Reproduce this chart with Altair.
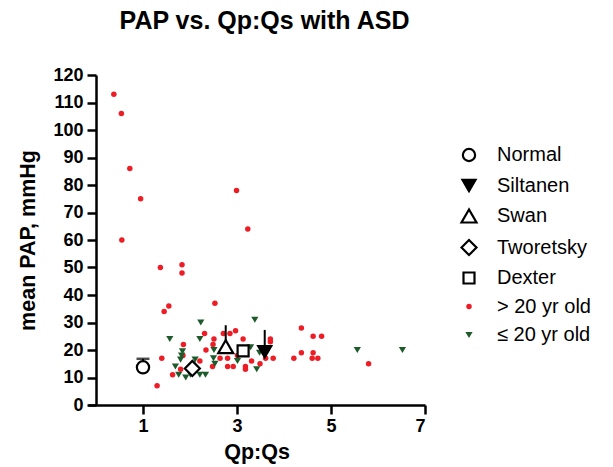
import altair as alt
import pandas as pd

# ---- data ----
series_names = ["Normal", "Siltanen", "Swan", "Tworetsky", "Dexter", "> 20 yr old", "≤ 20 yr old"]
series_shapes = ["circle", "triangle-down", "triangle-up", "diamond", "square", "circle", "triangle-down"]
series_fills = ["white", "black", "white", "white", "white", "#EE1C25", "#1E5B2B"]
series_strokes = ["black", "black", "black", "black", "black", "rgba(0,0,0,0)", "rgba(0,0,0,0)"]
series_sizes = [150, 170, 225, 225, 121, 30, 52]

adult_x = [0.38, 0.54, 0.72, 0.95, 0.55, 2.99, 3.23, 1.37, 1.83, 1.83, 1.55, 1.45, 2.53,
           1.40, 1.30, 1.63, 1.86, 2.31, 2.51, 2.49, 2.34, 2.21, 1.80, 2.48, 2.71, 2.85,
           2.97, 2.64, 2.80, 2.80, 2.92, 3.01, 3.13, 3.18, 3.18, 3.31, 3.49, 3.61, 3.71,
           3.71, 3.77, 4.21, 4.37, 4.62, 4.80, 4.37, 4.62, 4.60, 4.72, 5.80, 1.85]
adult_y = [113, 106, 86, 75, 60, 78, 64, 50, 51, 48, 36, 34, 37,
           17, 7, 11, 22, 26, 24, 22, 20, 16, 13, 14, 26, 26,
           27, 17, 17, 14, 14, 18, 24, 14, 13, 16, 15, 17, 24,
           23, 17, 17, 28, 25, 25, 19, 19, 17, 17, 15, 18]

young_x = [2.23, 1.57, 2.21, 3.38, 1.84, 1.82, 1.80, 2.11, 1.69, 1.76, 1.91, 2.01,
           2.21, 2.33, 2.51, 2.50, 2.53, 3.29, 3.48, 3.01, 3.42, 5.56, 6.52]
young_y = [30, 24, 24, 31, 19.5, 18, 16.5, 16.5, 14, 11, 10, 11,
           11, 11, 20, 17, 15, 21, 19, 16, 13, 20, 20]

summary_names = ["Normal", "Tworetsky", "Swan", "Dexter", "Siltanen"]
summary_x = [1.00, 2.05, 2.76, 3.13, 3.59]
summary_y = [13.7, 13.3, 21.2, 19.7, 19.4]

err_x = [1.00, 2.76, 3.59]
err_low = [13.7, 21.2, 19.4]
err_high = [16.8, 29.0, 27.3]
cap_x = [1.00]
cap_y = [16.8]

x_ticks = [1, 3, 5, 7]
y_ticks = [0, 10, 20, 30, 40, 50, 60, 70, 80, 90, 100, 110, 120]

# ---- tables ----
pts = pd.DataFrame({
    "x": adult_x + young_x,
    "y": adult_y + young_y,
    "series": ["> 20 yr old"] * len(adult_x) + ["≤ 20 yr old"] * len(young_x),
})
summ = pd.DataFrame({"x": summary_x, "y": summary_y, "series": summary_names})
errs = pd.DataFrame({"x": err_x, "y": err_low, "y2": err_high})
caps = pd.DataFrame({"x": cap_x, "y": cap_y})

FONT = "Liberation Sans"

xscale = alt.Scale(domain=[-0.17, 7], nice=False, zero=False)
yscale = alt.Scale(domain=[0, 120], nice=False, zero=False)
xaxis = alt.Axis(values=x_ticks, title="Qp:Qs", titlePadding=6, labelPadding=3, labelOverlap=False)
yaxis = alt.Axis(values=y_ticks, title="mean PAP, mmHg", offset=-8, titlePadding=13, labelPadding=4,
                 labelOverlap=False, tickCount=13)

def enc_series():
    return dict(
        shape=alt.Shape("series:N", scale=alt.Scale(domain=series_names, range=series_shapes), title=None),
        fill=alt.Fill("series:N", scale=alt.Scale(domain=series_names, range=series_fills), title=None),
        stroke=alt.Stroke("series:N", scale=alt.Scale(domain=series_names, range=series_strokes), title=None),
        size=alt.Size("series:N", scale=alt.Scale(type="ordinal", domain=series_names, range=series_sizes),
                      title=None),
    )

X = lambda: alt.X("x:Q", scale=xscale, axis=xaxis)
Y = lambda: alt.Y("y:Q", scale=yscale, axis=yaxis)

points = alt.Chart(pts).mark_point(filled=False, opacity=1, strokeWidth=2.2, fillOpacity=1).encode(
    x=X(), y=Y(), **enc_series(),
)

rules = alt.Chart(errs).mark_rule(color="black", strokeWidth=2).encode(
    x=X(), y=Y(), y2="y2:Q",
)

capmark = alt.Chart(caps).mark_tick(color="black", orient="horizontal", size=13, thickness=2.5).encode(
    x=X(), y=Y(),
)

summary = alt.Chart(summ).mark_point(filled=False, opacity=1, strokeWidth=2.2, fillOpacity=1).encode(
    x=X(), y=Y(), **enc_series(),
)

chart = alt.layer(points, rules, capmark, summary).properties(
    width=337,
    height=330,
    autosize=alt.AutoSizeParams(type="none"),
    padding={"left": 80, "top": 67, "right": 180, "bottom": 60},
    title=alt.TitleParams(
        "PAP vs. Qp:Qs with ASD", font=FONT, fontSize=25, fontWeight="bold", color="black",
        anchor="middle", frame="group", offset=32, dx=8,
    ),
).configure_view(stroke=None).configure_axis(
    grid=False,
    domainColor="black", domainWidth=2.5,
    tickColor="black", tickWidth=2.5, tickSize=9,
    labelFont=FONT, labelFontSize=18, labelFontWeight="bold", labelColor="black",
    titleFont=FONT, titleFontSize=21.5, titleFontWeight="bold", titleColor="black",
).configure_legend(
    orient="none", legendX=371, legendY=70, padding=0,
    labelFont=FONT, labelFontSize=20, labelColor="black", labelOffset=18,
    rowPadding=8.5, symbolStrokeWidth=2.2,
)

chart.save("out.html", embed_options={"renderer": "svg", "actions": False})
